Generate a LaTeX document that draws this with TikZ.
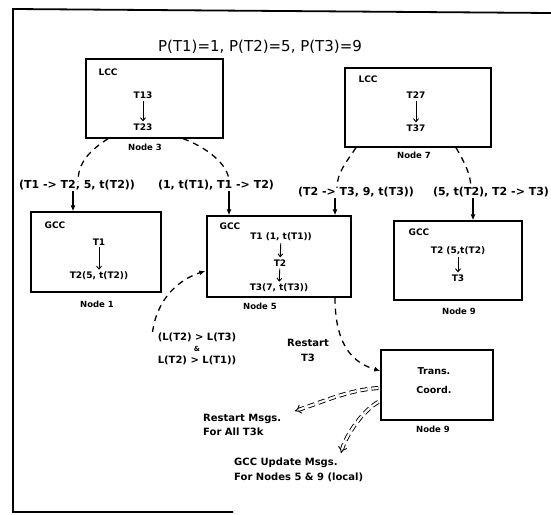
\documentclass[tikz,border=0pt]{standalone}
\usepackage{fontspec}
\setmainfont{DejaVu Sans}
\usetikzlibrary{arrows.meta,calc}
\begin{document}
\begin{tikzpicture}[x=1pt,y=-1pt,
  box/.style={draw, line width=1.3pt, inner sep=0pt},
  txt/.style={font=\fontsize{9}{10}\selectfont\bfseries, inner sep=1pt},
  nlab/.style={font=\fontsize{8.5}{10}\selectfont\bfseries, inner sep=1pt},
  elab/.style={font=\fontsize{11}{12}\selectfont\bfseries, inner sep=1pt},
  slab/.style={font=\fontsize{10}{12}\selectfont\bfseries, inner sep=1pt},
  dsh/.style={line width=1.3pt, dash pattern=on 6pt off 5pt},
  arr/.style={line width=1.3pt, -{Latex[length=6pt,width=5pt]}},
  dsharr/.style={dsh, -{Latex[length=6pt,width=5pt]}},
  inarr/.style={line width=0.9pt, -{Straight Barb[length=3pt,width=5pt]}, shorten <=1pt, shorten >=1pt},
  dbl/.style={double, double distance=2.2pt, line width=0.9pt, dash pattern=on 7pt off 4pt, -{Implies}},
]
\useasboundingbox (0,0) rectangle (551,514);
% frame
\draw[line width=1.8pt] (551,13) -- (13,9) -- (13,512) -- (233,512);
% title
\node[font=\fontsize{15}{18}\selectfont, inner sep=1pt] (title) at (260,47) {P(T1)=1, P(T2)=5, P(T3)=9};
% Node 3
\node[box, minimum width=137pt, minimum height=79pt] (n3) at (154.5,98.5) {};
\node[txt] (n3a) at (108,72) {LCC};
\node[txt] (n3b) at (143,95) {T13};
\node[txt] (n3c) at (143,127) {T23};
\draw[inarr] (n3b) -- (n3c);
\node[nlab] (n3l) at (145,147) {Node 3};
% Node 7
\node[box, minimum width=146pt, minimum height=79pt] (n7) at (418,107.5) {};
\node[txt] (n7a) at (368,79) {LCC};
\node[txt] (n7b) at (416,95) {T27};
\node[txt] (n7c) at (416,128) {T37};
\draw[inarr] (n7b) -- (n7c);
\node[nlab] (n7l) at (414,155) {Node 7};
% Node 1
\node[box, minimum width=130pt, minimum height=80pt] (n1) at (96,252) {};
\node[txt] (n1a) at (55,225) {GCC};
\node[txt] (n1b) at (99,242) {T1};
\node[txt] (n1c) at (99,276) {T2(5, t(T2))};
\draw[inarr] (n1b) -- (n1c);
\node[nlab] (n1l) at (97,304) {Node 1};
% Node 5
\node[box, minimum width=144pt, minimum height=81pt] (n5) at (279,256.5) {};
\node[txt] (n5a) at (230,226) {GCC};
\node[txt] (n5b) at (281,237) {T1 (1, t(T1))};
\node[txt] (n5c) at (280,263) {T2};
\node[txt] (n5d) at (279,288) {T3(7, t(T3))};
\draw[inarr] (n5b) -- (n5c);
\draw[inarr] (n5c) -- (n5d);
\node[nlab] (n5l) at (260,306) {Node 5};
% Node 9 (GCC)
\node[box, minimum width=128pt, minimum height=79pt] (n9) at (458,260.5) {};
\node[txt] (n9a) at (419,232) {GCC};
\node[txt] (n9b) at (458,251) {T2 (5,t(T2)};
\node[txt] (n9c) at (458,278) {T3};
\draw[inarr] (n9b) -- (n9c);
\node[nlab] (n9l) at (459,311) {Node 9};
% Trans. Coord.
\node[box, minimum width=112pt, minimum height=70pt] (tc) at (437,385) {};
\node[txt, font=\fontsize{9.5}{11}\selectfont\bfseries] (tca) at (434,371) {Trans.};
\node[txt, font=\fontsize{9.5}{11}\selectfont\bfseries] (tcb) at (434,390) {Coord.};
\node[nlab] (tcl) at (433,429) {Node 9};
% edge labels
\node[elab] (la) at (77,185) {(T1 -> T2, 5, t(T2))};
\node[elab] (lb) at (216,185) {(1, t(T1), T1 -> T2)};
\node[elab] (lc) at (356,192) {(T2 -> T3, 9, t(T3))};
\node[elab] (ld) at (491,192) {(5, t(T2), T2 -> T3)};
\node[slab, align=center] (ll) at (197,349) {(L(T2) > L(T3)\\[-1pt]{\fontsize{7}{8}\selectfont\&}\\L(T2) > L(T1))};
\node[slab, align=center, font=\fontsize{10}{15}\selectfont\bfseries] (rs) at (308,350) {Restart\\T3};
\node[slab, align=left, anchor=west, font=\fontsize{10}{14}\selectfont\bfseries] (rm) at (202,425) {Restart Msgs.\\For All T3k};
\node[slab, align=left, anchor=west, font=\fontsize{10}{15}\selectfont\bfseries] (gu) at (233,470) {GCC Update Msgs.\\For Nodes 5 \& 9 (local)};
\coordinate (rmtip) at (295,411);
\coordinate (gutip) at (341,453);
% connectors
\draw[dsh] ($(n3.south)+(-46.5,0)$) .. controls +(-18,12) and +(0,-20) .. ($(la.north)+(1,3)$);
\draw[arr] ($(la.south)+(-4,0)$) -- ($(n1.north)+(-23,0)$);
\draw[dsh] ($(n3.south)+(28.5,0)$) .. controls +(22,8) and +(0,-18) .. ($(lb.north)+(13,3)$);
\draw[arr] ($(lb.south)+(13,0)$) -- ($(n5.north)+(-50,0)$);
\draw[dsh] ($(n7.south)+(-62,0)$) .. controls +(-10,15) and +(0,-15) .. ($(lc.north)+(-19,2)$);
\draw[arr] ($(lc.south)+(-21,0)$) -- ($(n5.north)+(56,0)$);
\draw[dsh] ($(n7.south)+(38,0)$) .. controls +(8,14) and +(0,-15) .. ($(ld.north)+(-20,3)$);
\draw[arr] ($(ld.south)+(-18,0)$) -- ($(n9.north)+(15,0)$);
\draw[dsharr] ($(ll.north west)+(-4,0)$) .. controls +(5,-35) and +(-25,8) .. ($(n5.west)+(-1,14.5)$);
\draw[dsharr] ($(n5.south)+(56,0)$) .. controls +(0,53) and +(-23,-7) .. ($(tc.west)+(0,-14)$);
\draw[dbl] ($(tc.west)+(-2,3)$) .. controls +(-30,2) and +(30,-10) .. (rmtip);
\draw[dbl] ($(tc.west)+(-2,17)$) .. controls +(-15,8) and +(5,-18) .. (gutip);
\end{tikzpicture}
\end{document}
